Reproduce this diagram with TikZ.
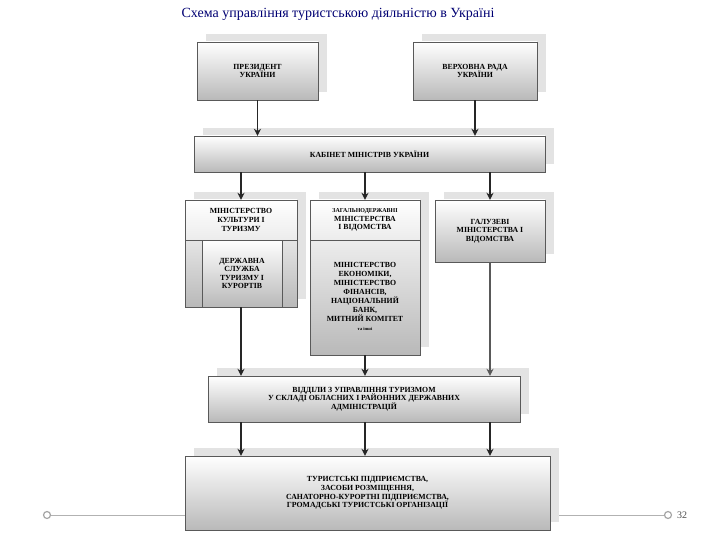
\documentclass[tikz,border=0pt]{standalone}
\usepackage{fontspec}
\setmainfont{Liberation Serif}
\usetikzlibrary{arrows.meta}
\begin{document}
\begin{tikzpicture}[x=1pt,y=-1pt,
 bx/.style={draw=gray!70!black,top color=white,bottom color=gray!55,inner sep=0pt,align=center,font=\fontsize{7.8}{8.6}\selectfont\bfseries},
 shd/.style={fill=gray!22},
 arr/.style={draw=black!85,line width=1.6pt,-{Stealth[length=7pt,width=7pt]}}]
\useasboundingbox (0,0) rectangle (720,540);
\fill[white] (0,0) rectangle (720,540);
\node[font=\fontsize{14}{16}\selectfont,text=blue!45!black] (title) at (338,14) {Схема управління туристською діяльністю в Україні};
% slide decoration
\draw[gray!60,line width=0.8pt] (47,515) -- (668,515);
\node[circle,draw=gray!70,fill=white,line width=1.2pt,minimum size=7pt,inner sep=0pt] (c1) at (47,515) {};
\node[circle,draw=gray!70,fill=white,line width=1.2pt,minimum size=7pt,inner sep=0pt] (c2) at (668,515) {};
\node[font=\fontsize{10}{12}\selectfont,text=gray!60!black] (pg) at (682,515) {32};
% shadows
\foreach \a/\b/\c/\d in {197/42/318/100,413/42/537/100,194/136/545/172,185/200/297/307,310/200/420/355,435/200/545/262,208/376/520/422,185/456/550/530}
  \fill[shd] (\a+9,\b-8) rectangle (\c+9,\d-8);
\fill[white] (180,530) rectangle (555,540);
% boxes
\node[bx,minimum width=121pt,minimum height=58pt] (pres) at (257.5,71) {ПРЕЗИДЕНТ\\УКРАЇНИ};
\node[bx,minimum width=124pt,minimum height=58pt] (vr) at (475,71) {ВЕРХОВНА РАДА\\УКРАЇНИ};
\node[bx,minimum width=351pt,minimum height=36pt] (km) at (369.5,154) {КАБІНЕТ МІНІСТРІВ УКРАЇНИ};
\node[bx,minimum width=112pt,minimum height=107pt] (mk) at (241,253.5) {};
\node[bx,top color=white,bottom color=gray!15,minimum width=112pt,minimum height=40pt] (mkt) at (241,220) {МІНІСТЕРСТВО\\КУЛЬТУРИ І\\ТУРИЗМУ};
\node[bx,minimum width=80pt,minimum height=67pt] (ds) at (242,273.5) {ДЕРЖАВНА\\СЛУЖБА\\ТУРИЗМУ І\\КУРОРТІВ};
\node[bx,minimum width=110pt,minimum height=155pt] (zm) at (365,277.5) {};
\node[bx,top color=white,bottom color=gray!15,minimum width=110pt,minimum height=40pt] (zmt) at (365,220) {{\fontsize{6}{7}\selectfont ЗАГАЛЬНОДЕРЖАВНІ}\\МІНІСТЕРСТВА\\І ВІДОМСТВА};
\node[align=center,font=\fontsize{7.8}{9}\selectfont\bfseries] (zmb) at (365,296) {МІНІСТЕРСТВО\\ЕКОНОМІКИ,\\МІНІСТЕРСТВО\\ФІНАНСІВ,\\НАЦІОНАЛЬНИЙ\\БАНК,\\МИТНИЙ КОМІТЕТ\\{\fontsize{4.5}{5}\selectfont та інші}};
\node[bx,minimum width=110pt,minimum height=62pt] (gm) at (490,231) {ГАЛУЗЕВІ\\МІНІСТЕРСТВА І\\ВІДОМСТВА};
\node[bx,minimum width=312pt,minimum height=46pt] (vd) at (364,399) {ВІДДІЛИ З УПРАВЛІННЯ ТУРИЗМОМ\\У СКЛАДІ ОБЛАСНИХ І РАЙОННИХ ДЕРЖАВНИХ\\АДМІНІСТРАЦІЙ};
\node[bx,minimum width=365pt,minimum height=74pt] (tp) at (367.5,493) {ТУРИСТСЬКІ ПІДПРИЄМСТВА,\\ЗАСОБИ РОЗМІЩЕННЯ,\\САНАТОРНО-КУРОРТНІ ПІДПРИЄМСТВА,\\ГРОМАДСЬКІ ТУРИСТСЬКІ ОРГАНІЗАЦІЇ};
% arrows
\draw[arr] (pres.south) -- (pres.south |- km.north);
\draw[arr] (vr.south) -- (vr.south |- km.north);
\draw[arr] (km.south -| mk.north) -- (mk.north);
\draw[arr] (km.south -| zm.north) -- (zm.north);
\draw[arr] (km.south -| gm.north) -- (gm.north);
\draw[arr] (mk.south) -- (mk.south |- vd.north);
\draw[arr] (zm.south) -- (zm.south |- vd.north);
\draw[arr,gray!70!black] (gm.south) -- (gm.south |- vd.north);
\draw[arr] (vd.south -| mk.south) -- (mk.south |- tp.north);
\draw[arr] (vd.south -| zm.south) -- (zm.south |- tp.north);
\draw[arr] (vd.south -| gm.south) -- (gm.south |- tp.north);
\end{tikzpicture}
\end{document}
